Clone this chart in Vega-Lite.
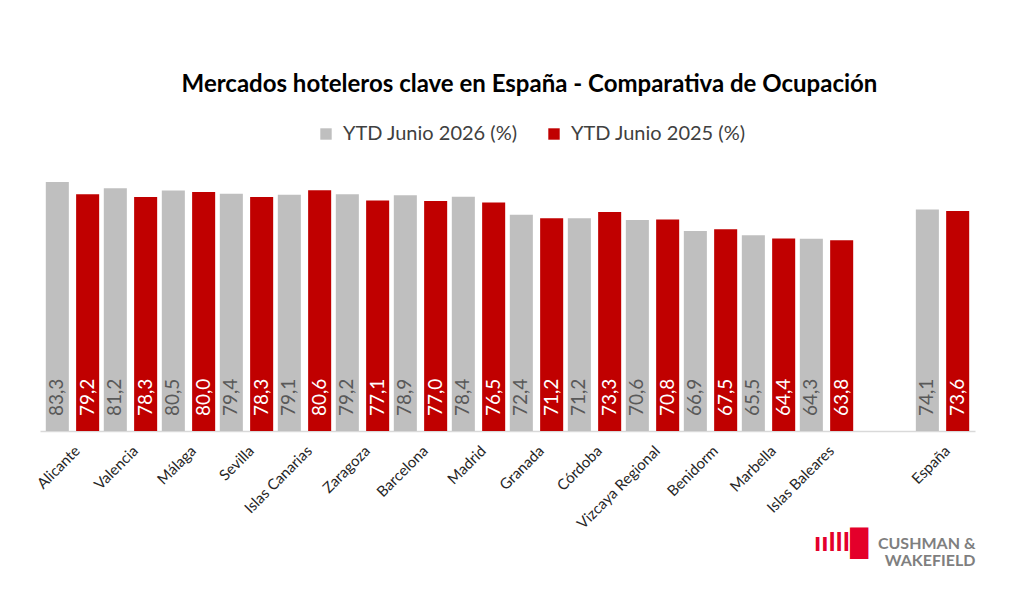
{
  "$schema": "https://vega.github.io/schema/vega-lite/v6.json",
  "autosize": "none",
  "width": 935,
  "height": 254,
  "padding": {"left": 40, "top": 177, "right": 49, "bottom": 180},
  "background": "white",
  "title": {
    "text": "Mercados hoteleros clave en España - Comparativa de Ocupación",
    "font": "Lato",
    "fontSize": 24,
    "fontWeight": "bold",
    "color": "#000000",
    "anchor": "middle",
    "dx": 22,
    "offset": 27
  },
  "data": {
    "values": [
      {"mercado": "Alicante", "serie": "YTD Junio 2026 (%)", "valor": 83.3},
      {"mercado": "Alicante", "serie": "YTD Junio 2025 (%)", "valor": 79.2},
      {"mercado": "Valencia", "serie": "YTD Junio 2026 (%)", "valor": 81.2},
      {"mercado": "Valencia", "serie": "YTD Junio 2025 (%)", "valor": 78.3},
      {"mercado": "Málaga", "serie": "YTD Junio 2026 (%)", "valor": 80.5},
      {"mercado": "Málaga", "serie": "YTD Junio 2025 (%)", "valor": 80.0},
      {"mercado": "Sevilla", "serie": "YTD Junio 2026 (%)", "valor": 79.4},
      {"mercado": "Sevilla", "serie": "YTD Junio 2025 (%)", "valor": 78.3},
      {"mercado": "Islas Canarias", "serie": "YTD Junio 2026 (%)", "valor": 79.1},
      {"mercado": "Islas Canarias", "serie": "YTD Junio 2025 (%)", "valor": 80.6},
      {"mercado": "Zaragoza", "serie": "YTD Junio 2026 (%)", "valor": 79.2},
      {"mercado": "Zaragoza", "serie": "YTD Junio 2025 (%)", "valor": 77.1},
      {"mercado": "Barcelona", "serie": "YTD Junio 2026 (%)", "valor": 78.9},
      {"mercado": "Barcelona", "serie": "YTD Junio 2025 (%)", "valor": 77.0},
      {"mercado": "Madrid", "serie": "YTD Junio 2026 (%)", "valor": 78.4},
      {"mercado": "Madrid", "serie": "YTD Junio 2025 (%)", "valor": 76.5},
      {"mercado": "Granada", "serie": "YTD Junio 2026 (%)", "valor": 72.4},
      {"mercado": "Granada", "serie": "YTD Junio 2025 (%)", "valor": 71.2},
      {"mercado": "Córdoba", "serie": "YTD Junio 2026 (%)", "valor": 71.2},
      {"mercado": "Córdoba", "serie": "YTD Junio 2025 (%)", "valor": 73.3},
      {"mercado": "Vizcaya Regional", "serie": "YTD Junio 2026 (%)", "valor": 70.6},
      {"mercado": "Vizcaya Regional", "serie": "YTD Junio 2025 (%)", "valor": 70.8},
      {"mercado": "Benidorm", "serie": "YTD Junio 2026 (%)", "valor": 66.9},
      {"mercado": "Benidorm", "serie": "YTD Junio 2025 (%)", "valor": 67.5},
      {"mercado": "Marbella", "serie": "YTD Junio 2026 (%)", "valor": 65.5},
      {"mercado": "Marbella", "serie": "YTD Junio 2025 (%)", "valor": 64.4},
      {"mercado": "Islas Baleares", "serie": "YTD Junio 2026 (%)", "valor": 64.3},
      {"mercado": "Islas Baleares", "serie": "YTD Junio 2025 (%)", "valor": 63.8},
      {"mercado": "España", "serie": "YTD Junio 2026 (%)", "valor": 74.1},
      {"mercado": "España", "serie": "YTD Junio 2025 (%)", "valor": 73.6}
    ]
  },
  "encoding": {
    "x": {
      "field": "mercado",
      "type": "nominal",
      "sort": null,
      "scale": {
        "domain": ["Alicante", "Valencia", "Málaga", "Sevilla", "Islas Canarias", "Zaragoza", "Barcelona", "Madrid", "Granada", "Córdoba", "Vizcaya Regional", "Benidorm", "Marbella", "Islas Baleares", " ", "España"],
        "paddingInner": 0.08,
        "paddingOuter": 0.1
      },
      "axis": {
        "title": ["CUSHMAN &", "WAKEFIELD"],
        "titleAnchor": "end",
        "titleAlign": "right",
        "titleFont": "Lato",
        "titleFontSize": 16,
        "titleFontWeight": "bold",
        "titleColor": "#7F7F7F",
        "titleLineHeight": 17,
        "titlePadding": 4,
        "labelAngle": -45,
        "labelFont": "Lato",
        "labelFontSize": 15,
        "labelColor": "#262626",
        "labelPadding": 12,
        "ticks": false,
        "domainColor": "#D9D9D9",
        "domainWidth": 1.5
      }
    },
    "xOffset": {
      "field": "serie",
      "type": "nominal",
      "scale": {"domain": ["YTD Junio 2026 (%)", "YTD Junio 2025 (%)"], "paddingInner": 0.24}
    },
    "y": {
      "field": "valor",
      "type": "quantitative",
      "scale": {"domain": [0, 85], "nice": false},
      "axis": {
        "orient": "right",
        "labels": false,
        "ticks": false,
        "domain": false,
        "grid": false,
        "title": "ıılll█",
        "titleAngle": 0,
        "titleAlign": "right",
        "titleBaseline": "alphabetic",
        "titleFont": "Liberation Sans",
        "titleFontSize": 26,
        "titleFontWeight": "bold",
        "titleColor": "#E4002B",
        "titleX": -107,
        "titleY": 373
      }
    }
  },
  "layer": [
    {
      "mark": {"type": "bar"},
      "encoding": {
        "color": {
          "field": "serie",
          "type": "nominal",
          "scale": {
            "domain": ["YTD Junio 2026 (%)", "YTD Junio 2025 (%)"],
            "range": ["#BFBFBF", "#C00000"]
          },
          "legend": {
            "title": null,
            "orient": "none",
            "legendX": 276,
            "legendY": -53,
            "direction": "horizontal",
            "symbolType": "square",
            "symbolSize": 130,
            "symbolStrokeWidth": 0,
            "labelFont": "Lato",
            "labelFontSize": 20,
            "labelColor": "#404040",
            "labelOffset": 7,
            "labelLimit": 400,
            "columnPadding": 26
          }
        }
      }
    },
    {
      "mark": {
        "type": "text",
        "angle": 270,
        "align": "left",
        "baseline": "middle",
        "dx": 15,
        "font": "Lato",
        "fontSize": 19
      },
      "encoding": {
        "y": {"datum": 0, "type": "quantitative"},
        "text": {"field": "valor", "type": "quantitative", "format": ".1f"},
        "color": {
          "condition": {"test": "datum.serie === 'YTD Junio 2025 (%)'", "value": "#FFFFFF"},
          "value": "#595959"
        }
      }
    }
  ],
  "config": {
    "view": {"stroke": null},
    "locale": {
      "number": {"decimal": ",", "thousands": ".", "grouping": [3], "currency": ["", " €"]}
    }
  }
}
